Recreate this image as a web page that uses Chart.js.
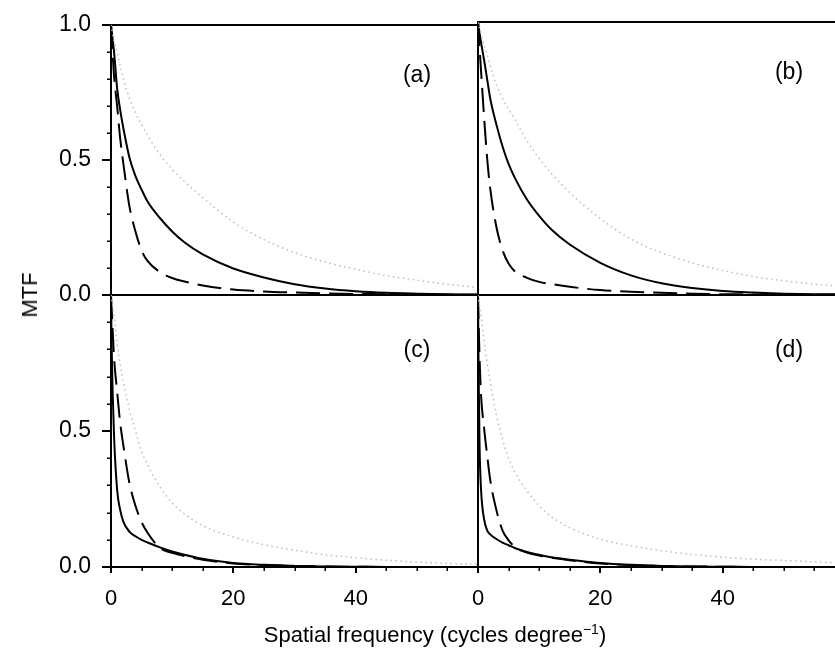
<!DOCTYPE html>
<html>
<head>
<meta charset="utf-8">
<script src="https://cdn.jsdelivr.net/npm/chart.js@4.4.3/dist/chart.umd.min.js"></script>
<style>
  html, body { margin: 0; padding: 0; background: #fff; overflow: hidden; }
  #fig { position: relative; width: 835px; height: 658px; overflow: hidden; background: #fff;
         font-family: "Liberation Sans", Arial, sans-serif; color: #000; }
  #fig canvas { position: absolute; display: block; }
  #ylabel { position: absolute; left: 30px; top: 295px; font-size: 22px; white-space: nowrap;
            transform: translate(-50%, -50%) rotate(-90deg); }
  #xlabel { position: absolute; left: 235px; width: 400px; top: 624px; font-size: 22px;
            line-height: 22px; text-align: center; white-space: nowrap; }
  #xlabel sup { font-size: 14px; vertical-align: 8px; line-height: 0; }
</style>
</head>
<body>
<div id="fig">
  <canvas id="panel-a" width="500" height="335" style="left:0;top:0"></canvas>
  <canvas id="panel-b" width="420" height="335" style="left:438px;top:0"></canvas>
  <canvas id="panel-c" width="500" height="403" style="left:0;top:255px"></canvas>
  <canvas id="panel-d" width="420" height="403" style="left:438px;top:255px"></canvas>
  <div id="ylabel">MTF</div>
  <div id="xlabel">Spatial frequency (cycles degree<sup>−1</sup>)</div>
</div>
<script>
// spatial frequency grid (cycles/degree) shared by every curve
const freq = [0, 0.1, 0.25, 0.5, 1, 1.5, 2, 3, 4, 5, 6, 8, 10, 12, 15, 20, 25, 30, 35, 40, 45, 50, 55, 60];

// panel (a)
const aSolid  = [1, 0.98, 0.95, 0.90, 0.765, 0.685, 0.62, 0.51, 0.44, 0.39, 0.345, 0.285, 0.235, 0.195, 0.15, 0.098, 0.065, 0.04, 0.024, 0.014, 0.008, 0.005, 0.003, 0.002];
const aDashed = [1, 0.96, 0.90, 0.81, 0.70, 0.58, 0.49, 0.33, 0.235, 0.165, 0.125, 0.085, 0.063, 0.05, 0.035, 0.02, 0.013, 0.009, 0.006, 0.004, 0.003, 0.002, 0.001, 0.001];
const aDotted = [1, 0.99, 0.97, 0.94, 0.90, 0.85, 0.80, 0.73, 0.675, 0.63, 0.59, 0.52, 0.465, 0.42, 0.36, 0.27, 0.205, 0.157, 0.122, 0.095, 0.072, 0.055, 0.04, 0.028];

// panel (b)
const bSolid  = [1, 0.985, 0.96, 0.925, 0.86, 0.79, 0.72, 0.625, 0.545, 0.48, 0.43, 0.35, 0.29, 0.24, 0.185, 0.118, 0.072, 0.043, 0.026, 0.015, 0.009, 0.005, 0.003, 0.002];
const bDashed = [1, 0.965, 0.91, 0.82, 0.65, 0.50, 0.39, 0.25, 0.165, 0.115, 0.087, 0.063, 0.048, 0.04, 0.03, 0.018, 0.012, 0.008, 0.005, 0.003, 0.002, 0.001, 0.001, 0.001];
const bDotted = [1, 0.99, 0.98, 0.955, 0.915, 0.88, 0.84, 0.77, 0.72, 0.68, 0.645, 0.565, 0.50, 0.445, 0.375, 0.28, 0.205, 0.155, 0.118, 0.09, 0.068, 0.052, 0.04, 0.03];

// panel (c)
const cSolid  = [1, 0.82, 0.66, 0.48, 0.284, 0.21, 0.168, 0.13, 0.113, 0.10, 0.09, 0.072, 0.057, 0.045, 0.03, 0.015, 0.008, 0.004, 0.002, 0.001, 0, 0, 0, 0];
const cDashed = [1, 0.95, 0.88, 0.77, 0.645, 0.53, 0.45, 0.31, 0.225, 0.165, 0.125, 0.07, 0.052, 0.04, 0.027, 0.013, 0.007, 0.004, 0.002, 0.001, 0, 0, 0, 0];
const cDotted = [1, 0.985, 0.965, 0.925, 0.82, 0.745, 0.68, 0.58, 0.50, 0.425, 0.375, 0.295, 0.235, 0.195, 0.152, 0.11, 0.082, 0.062, 0.045, 0.034, 0.025, 0.018, 0.013, 0.01];

// panel (d)
const dSolid  = [1, 0.72, 0.45, 0.284, 0.175, 0.135, 0.12, 0.103, 0.09, 0.08, 0.07, 0.055, 0.045, 0.036, 0.027, 0.015, 0.008, 0.004, 0.002, 0.001, 0, 0, 0, 0];
const dDashed = [1, 0.9, 0.77, 0.63, 0.51, 0.41, 0.32, 0.21, 0.135, 0.098, 0.075, 0.053, 0.042, 0.034, 0.025, 0.013, 0.007, 0.003, 0.002, 0.001, 0, 0, 0, 0];
const dDotted = [1, 0.985, 0.96, 0.925, 0.83, 0.75, 0.68, 0.56, 0.47, 0.40, 0.35, 0.28, 0.225, 0.185, 0.145, 0.102, 0.078, 0.06, 0.046, 0.036, 0.029, 0.024, 0.019, 0.015];

// axis ticks
const yTickValues = [0, 0.5, 1];
const yTickLabelsTop = ["0.0", "0.5", "1.0"];
const yTickLabelsBottom = ["0.0", "0.5", ""];
const yMinorTicks = [0.1, 0.2, 0.3, 0.4, 0.6, 0.7, 0.8, 0.9];
const xTickValues = [0, 20, 40];
const xTickLabels = ["0", "20", "40"];
const xMinorTicks = [5, 10, 15, 25, 30, 35, 45, 50, 55];

const FONT = '"Liberation Sans", Arial, sans-serif';

const minorTicksPlugin = {
  id: "minorTicks",
  afterDraw(chart, args, opts) {
    const { ctx } = chart;
    ctx.save();
    ctx.strokeStyle = "#000";
    ctx.lineWidth = 1.5;
    (opts.y || []).forEach((v) => {
      const s = chart.scales.y;
      const py = Math.round(s.getPixelForValue(v)) + 0.25;
      ctx.beginPath();
      ctx.moveTo(s.right - opts.len, py);
      ctx.lineTo(s.right, py);
      ctx.stroke();
    });
    (opts.x || []).forEach((v) => {
      const s = chart.scales.x;
      const px = Math.round(s.getPixelForValue(v)) + 0.25;
      ctx.beginPath();
      ctx.moveTo(px, s.top);
      ctx.lineTo(px, s.top + opts.len);
      ctx.stroke();
    });
    ctx.restore();
  },
};

const panelLabelPlugin = {
  id: "panelLabel",
  afterDraw(chart, args, opts) {
    const { ctx, chartArea } = chart;
    ctx.save();
    ctx.font = `23px ${FONT}`;
    ctx.fillStyle = "#000";
    ctx.textAlign = "center";
    ctx.textBaseline = "middle";
    ctx.fillText(opts.text, chartArea.left + opts.dx, chartArea.top + opts.dy);
    ctx.restore();
  },
};

function toPoints(values) {
  return freq.map((f, i) => ({ x: f, y: values[i] }));
}

function curveSets(solid, dashed, dotted) {
  return [
    { data: toPoints(dotted), borderColor: "#bdbdbd", borderWidth: 1.5, borderDash: [1.5, 3.5] },
    { data: toPoints(dashed), borderColor: "#000", borderWidth: 2, borderDash: [24, 9] },
    { data: toPoints(solid), borderColor: "#000", borderWidth: 2 },
  ].map((ds) => ({
    ...ds,
    pointRadius: 0,
    fill: false,
    cubicInterpolationMode: "monotone",
  }));
}

function makePanel(canvasId, opts) {
  const { solid, dashed, dotted, label, labelDx, labelDy, leftAxis, bottomAxis, topBorder,
          yLabels, rightPad, yWidth, xHeight, topHeight } = opts;

  const scales = {
    x: {
      type: "linear",
      min: 0,
      max: 60,
      afterBuildTicks: (scale) => {
        scale.ticks = xTickValues.map((v) => ({ value: v }));
      },
      afterFit: (scale) => { scale.height = xHeight; },
      border: { display: true, color: "#000", width: 2 },
      grid: { display: bottomAxis, drawOnChartArea: false, drawTicks: bottomAxis,
              tickLength: 6, color: "#000", lineWidth: 2 },
      ticks: {
        display: bottomAxis,
        color: "#000",
        font: { family: FONT, size: 22 },
        padding: 13,
        maxRotation: 0,
        callback: (value, index) => xTickLabels[index],
      },
    },
    xTop: {
      type: "linear",
      position: "top",
      min: 0,
      max: 60,
      afterFit: (scale) => { scale.height = topHeight; },
      border: { display: topBorder, color: "#000", width: 2 },
      grid: { display: false, drawOnChartArea: false, drawTicks: false },
      ticks: { display: false },
    },
    y: {
      type: "linear",
      min: 0,
      max: 1,
      afterBuildTicks: (scale) => {
        scale.ticks = yTickValues.map((v) => ({ value: v }));
      },
      afterFit: (scale) => { scale.width = yWidth; },
      border: { display: true, color: "#000", width: 2 },
      grid: { display: leftAxis, drawOnChartArea: false, drawTicks: leftAxis,
              tickLength: 9, color: "#000", lineWidth: 2 },
      ticks: {
        display: leftAxis,
        color: "#000",
        font: { family: FONT, size: 23 },
        padding: 11,
        callback: (value, index) => yLabels[index],
      },
    },
  };

  return new Chart(document.getElementById(canvasId), {
    type: "line",
    data: { datasets: curveSets(solid, dashed, dotted) },
    options: {
      responsive: false,
      animation: false,
      events: [],
      layout: { padding: { left: 0, top: 0, right: rightPad, bottom: 0 } },
      scales,
      plugins: {
        legend: { display: false },
        tooltip: { enabled: false },
        minorTicks: {
          len: 4,
          y: leftAxis ? yMinorTicks : [],
          x: bottomAxis ? xMinorTicks : [],
        },
        panelLabel: { text: label, dx: labelDx, dy: labelDy },
      },
    },
    plugins: [minorTicksPlugin, panelLabelPlugin],
  });
}

// top-left: chart area 111..478 x 22..295
makePanel("panel-a", {
  solid: aSolid, dashed: aDashed, dotted: aDotted,
  label: "(a)", labelDx: 306, labelDy: 51,
  leftAxis: true, bottomAxis: false, topBorder: true,
  yLabels: yTickLabelsTop,
  rightPad: 22, yWidth: 111, xHeight: 40, topHeight: 22,
});

// top-right: chart area 478..845 x 22..295 (cropped at the window edge)
makePanel("panel-b", {
  solid: bSolid, dashed: bDashed, dotted: bDotted,
  label: "(b)", labelDx: 311, labelDy: 51,
  leftAxis: false, bottomAxis: false, topBorder: true,
  yLabels: yTickLabelsTop,
  rightPad: 13, yWidth: 40, xHeight: 40, topHeight: 22,
});

// bottom-left: chart area 111..478 x 295..567
makePanel("panel-c", {
  solid: cSolid, dashed: cDashed, dotted: cDotted,
  label: "(c)", labelDx: 306, labelDy: 56,
  leftAxis: true, bottomAxis: true, topBorder: false,
  yLabels: yTickLabelsBottom,
  rightPad: 22, yWidth: 111, xHeight: 91, topHeight: 40,
});

// bottom-right
makePanel("panel-d", {
  solid: dSolid, dashed: dDashed, dotted: dDotted,
  label: "(d)", labelDx: 311, labelDy: 56,
  leftAxis: false, bottomAxis: true, topBorder: false,
  yLabels: yTickLabelsBottom,
  rightPad: 13, yWidth: 40, xHeight: 91, topHeight: 40,
});
</script>
</body>
</html>
